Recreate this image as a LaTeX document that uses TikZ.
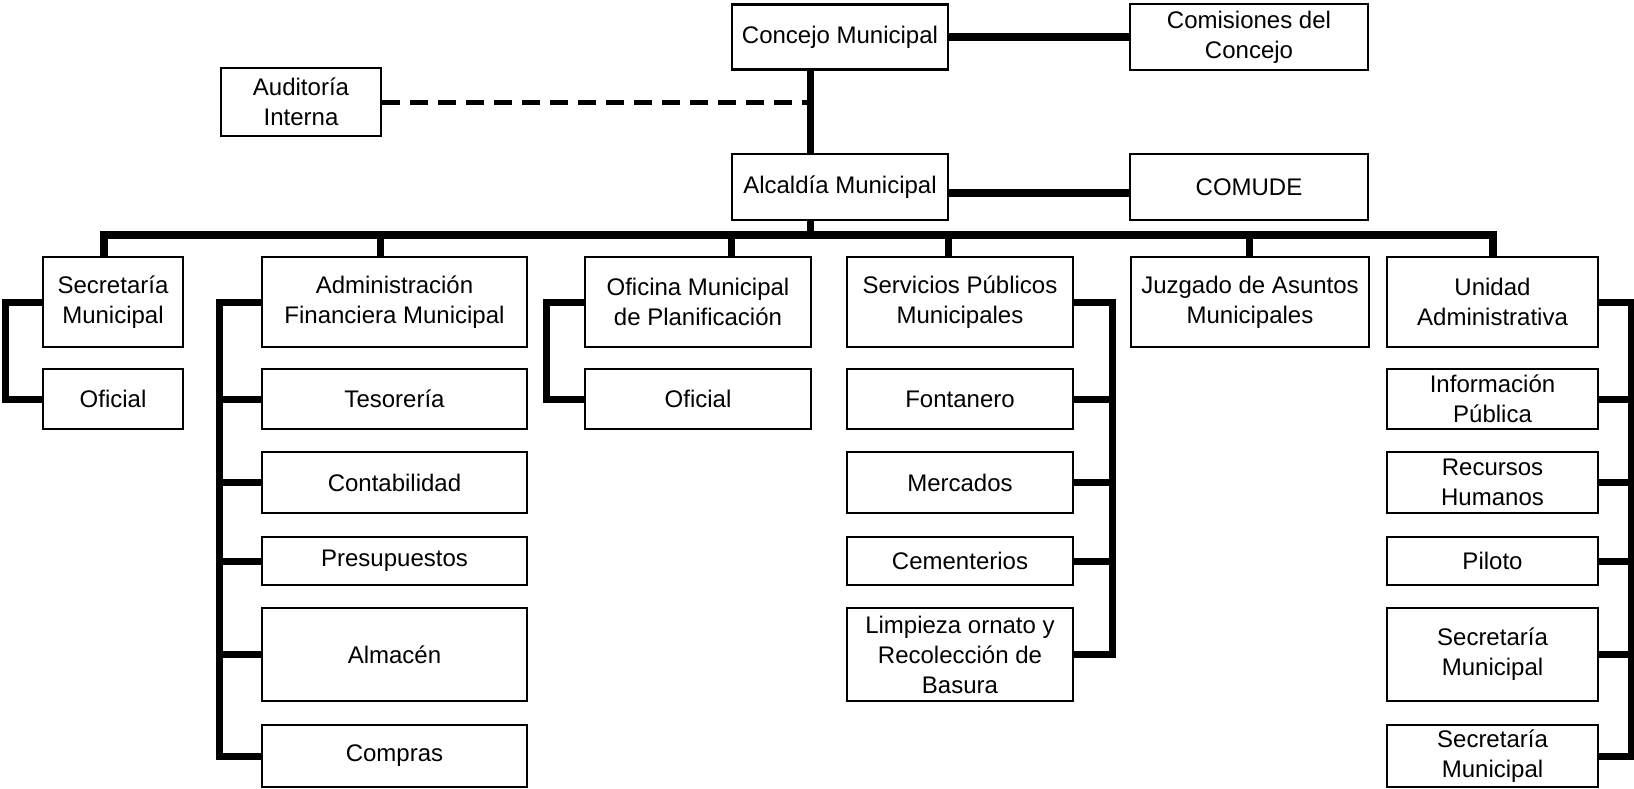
\documentclass[tikz,border=0pt]{standalone}
\usepackage{fontspec}
\setmainfont{Liberation Sans}

\tikzstyle{unit} = [rectangle, draw=black, line width=2.6pt, fill=white, align=center, inner sep=0pt, font=\fontsize{24}{30}\selectfont]
\tikzstyle{bar} = [line width=7pt]
\tikzstyle{bus} = [line width=8pt]
\tikzstyle{dashline} = [line width=5pt, dash pattern=on 18pt off 10pt]

\begin{document}
\begin{tikzpicture}[x=1pt, y=-1pt]
\useasboundingbox (0,0) rectangle (1634,788);

% top level
\node (concejo) [unit, minimum width=216pt, minimum height=65pt] at (840,37) {Concejo Municipal};
\node (comisiones) [unit, minimum width=238pt, minimum height=66pt] at (1249,37) {Comisiones del\\Concejo};
\node (auditoria) [unit, minimum width=160pt, minimum height=68pt] at (301,102) {Auditoría\\Interna};
\node (alcaldia) [unit, minimum width=216pt, minimum height=66pt] at (840,187) {Alcaldía Municipal};
\node (comude) [unit, minimum width=238pt, minimum height=66pt] at (1249,187) {COMUDE};

% first row
\node (secmun) [unit, minimum width=140pt, minimum height=90pt] at (113,302) {Secretaría\\Municipal};
\node (admin) [unit, minimum width=265pt, minimum height=90pt] at (394.5,302) {Administración\\Financiera Municipal};
\node (oficina) [unit, minimum width=226pt, minimum height=90pt] at (698,302) {Oficina Municipal\\de Planificación};
\node (servicios) [unit, minimum width=226pt, minimum height=90pt] at (960,302) {Servicios Públicos\\Municipales};
\node (juzgado) [unit, minimum width=238pt, minimum height=90pt] at (1250,302) {Juzgado de Asuntos\\Municipales};
\node (unidad) [unit, minimum width=211pt, minimum height=90pt] at (1492.5,302) {Unidad\\Administrativa};

% Secretaria
\node (oficial) [unit, minimum width=140pt, minimum height=60pt] at (113,399) {Oficial};

% Administracion Financiera
\node (tesoreria) [unit, minimum width=265pt, minimum height=60pt] at (394.5,399) {Tesorería};
\node (contabilidad) [unit, minimum width=265pt, minimum height=61pt] at (394.5,482.5) {Contabilidad};
\node (presupuestos) [unit, minimum width=265pt, minimum height=48pt] at (394.5,561) {Presupuestos};
\node (almacen) [unit, minimum width=265pt, minimum height=93pt] at (394.5,654.5) {Almacén};
\node (compras) [unit, minimum width=265pt, minimum height=62pt] at (394.5,756) {Compras};

% Oficina de Planificacion
\node (oficialplan) [unit, minimum width=226pt, minimum height=60pt] at (698,399) {Oficial};

% Servicios Publicos
\node (fontanero) [unit, minimum width=226pt, minimum height=60pt] at (960,399) {Fontanero};
\node (mercados) [unit, minimum width=226pt, minimum height=61pt] at (960,482.5) {Mercados};
\node (cementerios) [unit, minimum width=226pt, minimum height=48pt] at (960,561) {Cementerios};
\node (limpieza) [unit, minimum width=226pt, minimum height=93pt] at (960,654.5) {Limpieza ornato y\\Recolección de\\Basura};

% Unidad Administrativa
\node (informacion) [unit, minimum width=211pt, minimum height=60pt] at (1492.5,399) {Información\\Pública};
\node (recursos) [unit, minimum width=211pt, minimum height=61pt] at (1492.5,482.5) {Recursos\\Humanos};
\node (piloto) [unit, minimum width=211pt, minimum height=48pt] at (1492.5,561) {Piloto};
\node (secmuna) [unit, minimum width=211pt, minimum height=93pt] at (1492.5,654.5) {Secretaría\\Municipal};
\node (secmunb) [unit, minimum width=211pt, minimum height=62pt] at (1492.5,756) {Secretaría\\Municipal};

% trunk and bus
\coordinate (trunk) at (810,235);
\coordinate (busL) at (104,235);
\coordinate (busR) at (1493,235);
\draw [bar] (concejo.south -| trunk) -- (alcaldia.north -| trunk);
\draw [bar] (alcaldia.south -| trunk) -- (trunk);
\draw [dashline] (auditoria.east) -- (auditoria.east -| trunk);
\draw [bus] (concejo.east) -- (concejo.east -| comisiones.west);
\draw [bus] ([yshift=-6pt]alcaldia.east) -- ([yshift=-6pt]alcaldia.east -| comude.west);
\draw [bus] (busL |- secmun.north) -- (busL) -- (busR) -- (busR |- unidad.north);
\foreach \x/\n in {380/admin, 731/oficina, 948/servicios, 1249/juzgado} {
  \coordinate (d\n) at (\x,235);
  \draw [bar] (d\n) -- (d\n |- \n.north);
}

% side lines
\draw [bar] (secmun.west) -- ++(-36,0) |- (oficial.west);
\draw [bar] (admin.west) -- ++(-41,0) |- (compras.west);
\foreach \n in {tesoreria, contabilidad, presupuestos, almacen}
  \draw [bar] (\n.west) -- ++(-41,0);
\draw [bar] (oficina.west) -- ++(-37,0) |- (oficialplan.west);
\draw [bar] (servicios.east) -- ++(38,0) |- (limpieza.east);
\foreach \n in {fontanero, mercados, cementerios}
  \draw [bar] (\n.east) -- ++(38,0);
\draw [bar] (unidad.east) -- ++(32,0) |- (secmunb.east);
\foreach \n in {informacion, recursos, piloto, secmuna}
  \draw [bar] (\n.east) -- ++(32,0);
\end{tikzpicture}
\end{document}
